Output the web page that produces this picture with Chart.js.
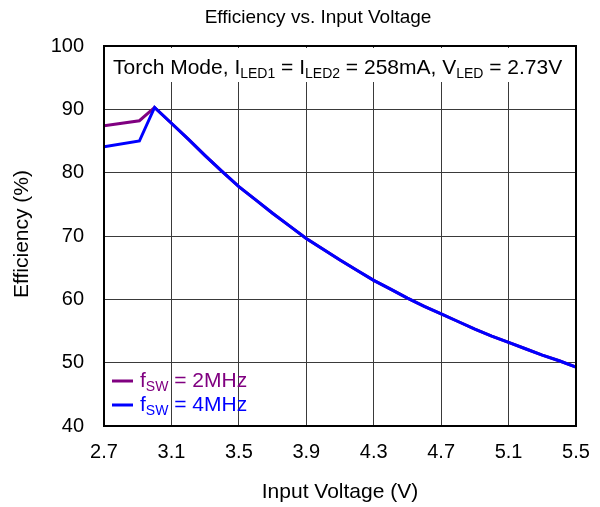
<!DOCTYPE html>
<html>
<head>
<meta charset="utf-8">
<script src="https://cdn.jsdelivr.net/npm/chart.js@4/dist/chart.umd.min.js"></script>
<style>
  html, body { margin: 0; padding: 0; background: #fff; }
  #wrap { width: 600px; height: 507px; }
</style>
</head>
<body>
<div id="wrap"><canvas id="c" width="600" height="507"></canvas></div>
<script>
// Input voltage (V) sample points
const inputVoltage = [2.7, 2.91, 3.0, 3.1, 3.2, 3.3, 3.4, 3.5, 3.6, 3.7, 3.8, 3.9, 4.0, 4.1, 4.2, 4.3, 4.4, 4.5, 4.6, 4.7, 4.8, 4.9, 5.0, 5.1, 5.2, 5.3, 5.4, 5.5];
// Efficiency (%) at fSW = 2 MHz
const eff2MHz = [87.4, 88.2, 90.3, 87.8, 85.3, 82.7, 80.2, 77.8, 75.7, 73.6, 71.6, 69.6, 67.9, 66.2, 64.6, 63.0, 61.6, 60.2, 58.9, 57.7, 56.5, 55.3, 54.2, 53.2, 52.2, 51.2, 50.3, 49.3];
// Efficiency (%) at fSW = 4 MHz
const eff4MHz = [84.1, 85.0, 90.3, 87.8, 85.3, 82.7, 80.2, 77.8, 75.7, 73.6, 71.6, 69.6, 67.9, 66.2, 64.6, 63.0, 61.6, 60.2, 58.9, 57.7, 56.5, 55.3, 54.2, 53.2, 52.2, 51.2, 50.3, 49.3];
// Axis ticks
const xTicks = [2.7, 3.1, 3.5, 3.9, 4.3, 4.7, 5.1, 5.5];
const yTicks = [40, 50, 60, 70, 80, 90, 100];

const FONT = '"Liberation Sans", Arial, sans-serif';
const PURPLE = '#800080';
const BLUE = '#0000ff';

const toPoints = (xs, ys) => xs.map((x, i) => ({ x: x, y: ys[i] }));

// Draws a run of [text, isSubscript] pieces starting at x on a baseline
function drawRich(ctx, pieces, x, baseline, size, subSize, color) {
  ctx.fillStyle = color;
  ctx.textAlign = 'left';
  ctx.textBaseline = 'alphabetic';
  let cx = x;
  for (const [t, sub] of pieces) {
    ctx.font = (sub ? subSize : size) + 'px ' + FONT;
    ctx.fillText(t, cx, sub ? baseline + 4 : baseline);
    cx += ctx.measureText(t).width;
  }
  return cx;
}
function richWidth(ctx, pieces, size, subSize) {
  let w = 0;
  for (const [t, sub] of pieces) {
    ctx.font = (sub ? subSize : size) + 'px ' + FONT;
    w += ctx.measureText(t).width;
  }
  return w;
}

const noteText = [['Torch Mode, I', false], ['LED1', true], [' = I', false], ['LED2', true],
                  [' = 258mA, V', false], ['LED', true], [' = 2.73V', false]];

const decorations = {
  id: 'decorations',
  beforeDatasetsDraw(chart) {
    const ctx = chart.ctx;
    const a = chart.chartArea;
    ctx.save();
    // condition note with a white backing over the grid
    const w = richWidth(ctx, noteText, 21, 14);
    const x0 = a.left + 9;
    ctx.fillStyle = '#fff';
    ctx.fillRect(x0 - 3, a.top + 2, w + 6, 34);
    drawRich(ctx, noteText, x0, 74, 21, 14, '#000');
    ctx.restore();
  },
  afterDatasetsDraw(chart) {
    const ctx = chart.ctx;
    const a = chart.chartArea;
    ctx.save();
    // plot frame
    ctx.strokeStyle = '#000';
    ctx.lineWidth = 2;
    ctx.strokeRect(a.left, a.top, a.right - a.left, a.bottom - a.top);

    // chart title
    ctx.fillStyle = '#000';
    ctx.font = '19px ' + FONT;
    ctx.textAlign = 'center';
    ctx.textBaseline = 'alphabetic';
    ctx.fillText('Efficiency vs. Input Voltage', 318, 23);

    // axis titles
    ctx.font = '21px ' + FONT;
    ctx.fillText('Input Voltage (V)', (a.left + a.right) / 2, 498);
    ctx.save();
    ctx.translate(22, 234);
    ctx.rotate(-Math.PI / 2);
    ctx.textBaseline = 'middle';
    ctx.fillText('Efficiency (%)', 0, 0);
    ctx.restore();

    // legend
    const rows = [
      { ds: chart.data.datasets[1], y: 381 },
      { ds: chart.data.datasets[0], y: 405 }
    ];
    for (const r of rows) {
      ctx.strokeStyle = r.ds.borderColor;
      ctx.lineWidth = 3;
      ctx.beginPath();
      ctx.moveTo(112, r.y);
      ctx.lineTo(133, r.y);
      ctx.stroke();
      const parts = r.ds.label.split('|');
      drawRich(ctx, [[parts[0], false], [parts[1], true], [parts[2], false]], 140, r.y + 6, 21, 14, r.ds.borderColor);
    }
    ctx.restore();
  }
};

new Chart(document.getElementById('c'), {
  type: 'line',
  data: {
    datasets: [
      {
        label: 'f|SW| = 4MHz',
        data: toPoints(inputVoltage, eff4MHz),
        borderColor: BLUE,
        backgroundColor: BLUE,
        borderWidth: 3,
        pointRadius: 0,
        tension: 0,
        order: 0
      },
      {
        label: 'f|SW| = 2MHz',
        data: toPoints(inputVoltage, eff2MHz),
        borderColor: PURPLE,
        backgroundColor: PURPLE,
        borderWidth: 3,
        pointRadius: 0,
        tension: 0,
        order: 1
      }
    ]
  },
  options: {
    responsive: false,
    animation: false,
    devicePixelRatio: 1,
    layout: { padding: { top: 46, right: 24, left: 0, bottom: 0 } },
    plugins: {
      legend: { display: false },
      title: { display: false },
      tooltip: { enabled: false }
    },
    scales: {
      x: {
        type: 'linear',
        min: xTicks[0],
        max: xTicks[xTicks.length - 1],
        afterBuildTicks(scale) { scale.ticks = xTicks.map(v => ({ value: v })); },
        afterFit(scale) { scale.height = 81; scale.paddingLeft = 0; scale.paddingRight = 0; },
        grid: { color: '#3a3a3a', lineWidth: 1, drawTicks: false },
        border: { display: false },
        ticks: {
          padding: 14,
          color: '#000',
          font: { family: FONT, size: 20 },
          callback: v => v.toFixed(1)
        }
      },
      y: {
        min: yTicks[0],
        max: yTicks[yTicks.length - 1],
        afterBuildTicks(scale) { scale.ticks = yTicks.map(v => ({ value: v })); },
        afterFit(scale) { scale.width = 104; scale.paddingTop = 0; scale.paddingBottom = 0; },
        grid: { color: '#3a3a3a', lineWidth: 1, drawTicks: false },
        border: { display: false },
        ticks: {
          padding: 20,
          color: '#000',
          font: { family: FONT, size: 20 },
          callback: v => String(v)
        }
      }
    }
  },
  plugins: [decorations]
});
</script>
</body>
</html>
